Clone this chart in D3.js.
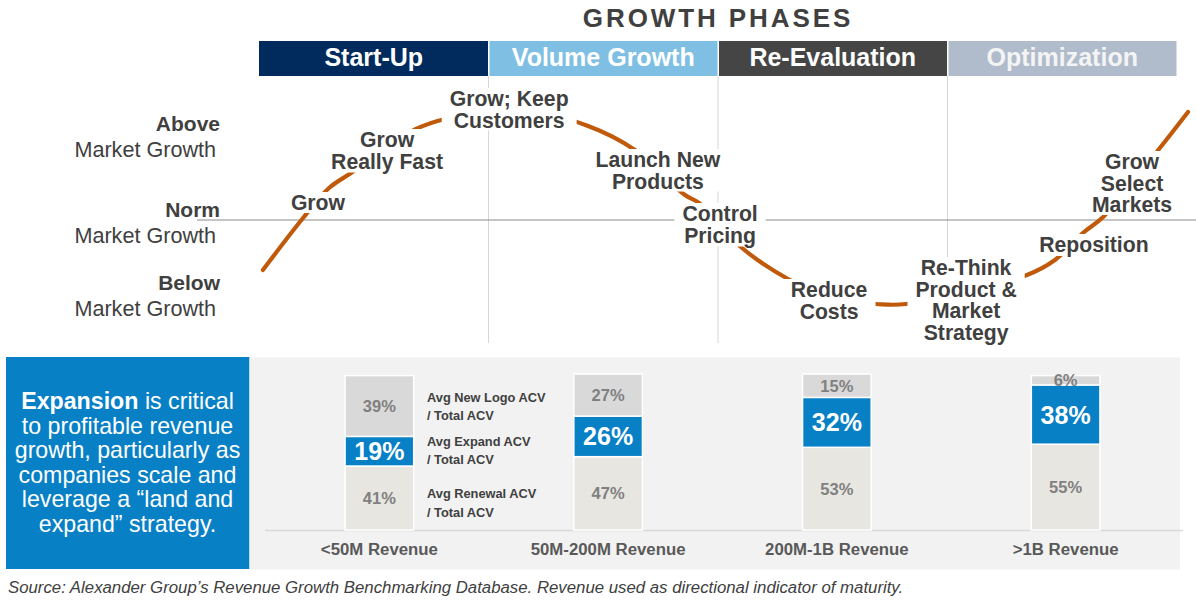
<!DOCTYPE html>
<html><head><meta charset="utf-8">
<script src="https://cdn.jsdelivr.net/npm/d3@7"></script>
<style>
body{margin:0;background:#fff}
svg{display:block}
text{font-family:"Liberation Sans",Arial,sans-serif}
</style>
</head><body>
<svg id="chart" width="1196" height="603"></svg>
<script>
// ---------- DATA ----------
const phases = ["Start-Up", "Volume Growth", "Re-Evaluation", "Optimization"];

// maturity (in phase units) and growth index (0 = market norm) along the lifecycle curve
const curveMaturity = [0.017, 0.192, 0.305, 0.401, 0.684, 0.828, 1.115, 1.434, 1.638, 1.856, 1.917, 2.105, 2.305, 2.51, 2.688, 2.819, 3.346, 3.468, 3.590, 3.678, 3.908, 4.048];
const curveGrowth   = [-0.625, 0.025, 0.40, 0.5875, 1.1375, 1.275, 1.40, 1.175, 0.875, 0.3125, 0.2125, -0.35, -0.7375, -1.0, -1.05, -1.05, -0.6875, -0.50, -0.1625, 0.0375, 0.8375, 1.35];

const stageLabels = [["Grow"], ["Grow", "Really Fast"], ["Grow; Keep", "Customers"], ["Launch New", "Products"], ["Control", "Pricing"], ["Reduce", "Costs"], ["Re-Think", "Product &", "Market", "Strategy"], ["Reposition"], ["Grow", "Select", "Markets"]];
const stageMaturity = [0.257, 0.558, 1.09, 1.738, 2.009, 2.484, 3.081, 3.638, 3.804];
const stageGrowth   = [0.125, 0.9125, 1.425, 0.6625, -0.0125, -0.9625, -0.6875, -0.40, 0.6375];

const levelNames  = ["Above", "Norm", "Below"];
const levelGrowth = [1.11, 0.04, -0.875];

const revenueBands = ["<50M Revenue", "50M-200M Revenue", "200M-1B Revenue", ">1B Revenue"];
const renewalPct = [41, 47, 53, 55];
const expandPct  = [19, 26, 32, 38];
const newLogoPct = [39, 27, 15, 6];
const segmentNames = ["Avg Renewal ACV", "Avg Expand ACV", "Avg New Logo ACV"];

const calloutLines = [["Expansion", " is critical"], ["", "to profitable revenue"], ["", "growth, particularly as"], ["", "companies scale and"], ["", "leverage a \u201cland and"], ["", "expand\u201d strategy."]];
const sourceNote = "Source: Alexander Group\u2019s Revenue Growth Benchmarking Database. Revenue used as directional indicator of maturity.";

// ---------- DRAW ----------
const svg = d3.select("#chart");
const dark = "#404040";

const x = d3.scaleLinear().domain([0, 4]).range([259, 1177]);
const y = d3.scaleLinear().domain([-1, 1]).range([300, 140]);

// title
svg.append("text").attr("x", 718).attr("y", 27).attr("text-anchor", "middle")
  .attr("font-size", 26).attr("font-weight", "bold").attr("letter-spacing", 2.9)
  .attr("fill", dark).text("GROWTH PHASES");

// phase header bars
const phaseFill = ["#002b5c", "#7fbfe3", "#454545", "#b0bccc"];
const phaseText = ["#ffffff", "#ffffff", "#ffffff", "#f4f4f4"];
svg.append("g").selectAll("rect").data(phases).join("rect")
  .attr("x", (d, i) => x(i) + (i ? 1 : 0)).attr("y", 41)
  .attr("width", (d, i) => x(i + 1) - x(i) - (i ? 1.5 : 0.5)).attr("height", 35)
  .attr("fill", (d, i) => phaseFill[i]);
svg.append("g").selectAll("text").data(phases).join("text")
  .attr("x", (d, i) => (x(i) + x(i + 1)) / 2).attr("y", 65.5)
  .attr("text-anchor", "middle").attr("font-size", 25).attr("font-weight", "bold")
  .attr("fill", (d, i) => phaseText[i]).text(d => d);

// phase dividers
svg.append("g").selectAll("line").data([1, 2, 3]).join("line")
  .attr("x1", d => x(d)).attr("x2", d => x(d)).attr("y1", 76).attr("y2", 343)
  .attr("stroke", "#d6d6d6").attr("stroke-width", 1);

// norm line
svg.append("line").attr("x1", 197).attr("x2", 1196).attr("y1", y(0)).attr("y2", y(0))
  .attr("stroke", "#8c8c8c").attr("stroke-width", 1.2);

// level labels
const lv = svg.append("g").selectAll("g").data(levelNames).join("g");
lv.append("text").attr("x", 220).attr("y", (d, i) => y(levelGrowth[i]))
  .attr("text-anchor", "end").attr("font-size", 21).attr("font-weight", "bold")
  .attr("fill", dark).text(d => d);
lv.append("text").attr("x", 216).attr("y", (d, i) => y(levelGrowth[i]) + 26)
  .attr("text-anchor", "end").attr("font-size", 21.6)
  .attr("fill", dark).text("Market Growth");

// lifecycle curve
const pts = curveMaturity.map((m, i) => [m, curveGrowth[i]]);
svg.append("path").datum(pts)
  .attr("d", d3.line().x(d => x(d[0])).y(d => y(d[1])).curve(d3.curveCatmullRom.alpha(0.5)))
  .attr("fill", "none").attr("stroke", "#c05a0a").attr("stroke-width", 4.2)
  .attr("stroke-linecap", "round");

// stage labels with white backing
const lh = 21.5;
stageLabels.forEach((lines, k) => {
  const g = svg.append("g");
  const t = g.append("text").attr("font-size", 21.2).attr("font-weight", "bold")
    .attr("fill", dark).attr("text-anchor", "middle");
  lines.forEach((s, j) => {
    t.append("tspan").attr("x", x(stageMaturity[k])).attr("y", y(stageGrowth[k]) + j * lh).text(s);
  });
  const bb = t.node().getBBox();
  g.insert("rect", "text").attr("x", bb.x - 8).attr("y", bb.y + 1)
    .attr("width", bb.width + 16).attr("height", bb.height - 2).attr("fill", "#ffffff");
});

// ---------- bottom section ----------
svg.append("rect").attr("x", 6).attr("y", 357).attr("width", 243.5).attr("height", 212).attr("fill", "#0880c6");
svg.append("rect").attr("x", 249.5).attr("y", 357.5).attr("width", 930.5).attr("height", 212).attr("fill", "#f2f2f2");

const co = svg.append("text").attr("text-anchor", "middle").attr("font-size", 23.2).attr("fill", "#ffffff");
calloutLines.forEach((ln, j) => {
  const ts = co.append("tspan").attr("x", 127.5).attr("y", 409 + j * 24.5);
  if (ln[0]) { ts.append("tspan").attr("font-weight", "bold").text(ln[0]); }
  ts.append("tspan").text(ln[1]);
});

const xb = d3.scaleBand().domain(revenueBands).range([265, 1180]).paddingInner(0.7).paddingOuter(0.35);
const yb = d3.scaleLinear().domain([0, 100]).range([530, 374]);

// axis line
svg.append("line").attr("x1", 265).attr("x2", 1183).attr("y1", 530.5).attr("y2", 530.5)
  .attr("stroke", "#d9d9d9").attr("stroke-width", 1.5);

const segFill = ["#e7e6e1", "#0880c6", "#d9d9d9"];
const legendShift = [[0, 19], [-5, 13], [-4, 14]];
const seriesVals = [renewalPct, expandPct, newLogoPct];
revenueBands.forEach((band, i) => {
  let base = 0;
  seriesVals.forEach((vals, s) => {
    const v = vals[i];
    const y0 = yb(base), y1 = yb(base + v);
    svg.append("rect").attr("x", xb(band)).attr("y", y1).attr("width", xb.bandwidth())
      .attr("height", y0 - y1).attr("fill", segFill[s]).attr("stroke", "#ffffff").attr("stroke-width", 1.5);
    const big = s === 1;
    svg.append("text").attr("x", xb(band) + xb.bandwidth() / 2)
      .attr("y", (y0 + y1) / 2 + (big ? 9 : 6))
      .attr("text-anchor", "middle").attr("font-weight", "bold")
      .attr("font-size", big ? 25 : 16.5).attr("fill", big ? "#ffffff" : "#808080")
      .text(v + "%");
    if (i === 0) {
      const mid = (y0 + y1) / 2;
      const lt = svg.append("text").attr("font-family", "Lato, sans-serif").attr("font-weight", "bold")
        .attr("font-size", 12.8).attr("fill", dark);
      lt.append("tspan").attr("x", 427).attr("y", mid + legendShift[s][0]).text(segmentNames[s]);
      lt.append("tspan").attr("x", 427).attr("y", mid + legendShift[s][1]).text("/ Total ACV");
    }
    base += v;
  });
});

svg.append("g").selectAll("text").data(revenueBands).join("text")
  .attr("x", d => xb(d) + xb.bandwidth() / 2).attr("y", 555)
  .attr("text-anchor", "middle").attr("font-size", 16.8).attr("font-weight", "bold")
  .attr("fill", "#595959").text(d => d);

svg.append("text").attr("x", 8).attr("y", 593).attr("font-size", 16.8).attr("font-style", "italic")
  .attr("fill", dark).text(sourceNote);
</script>
</body></html>
